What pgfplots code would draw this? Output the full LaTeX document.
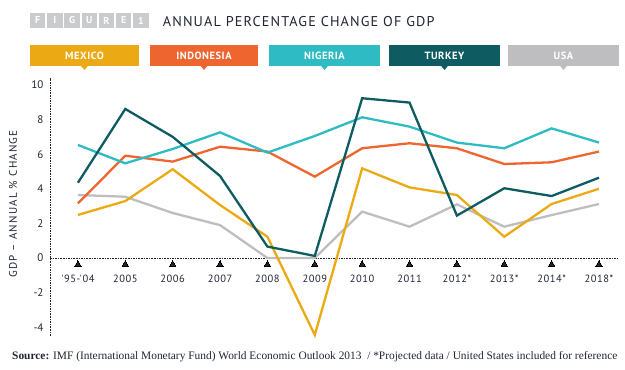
\documentclass[border=0pt]{standalone}
\usepackage{pgfplots}
\pgfplotsset{compat=1.18}
\usepackage{fontspec}
\setmainfont{Liberation Serif}
\newfontfamily\ptsans{PT Sans}
\newfontfamily\ptsansls[LetterSpace=8]{PT Sans}
\newfontfamily\ptsanslab[LetterSpace=11]{PT Sans}
\newfontfamily\ptsanslb[LetterSpace=5]{PT Sans}
\definecolor{mex}{HTML}{EBA914}
\definecolor{ind}{HTML}{EE6530}
\definecolor{nig}{HTML}{2EBBC3}
\definecolor{tur}{HTML}{0E5C61}
\definecolor{usa}{HTML}{BEBEC1}
\definecolor{navy}{HTML}{1F2533}
\definecolor{badge}{HTML}{C9CBCC}

\pgfplotstableread{
x   mex    ind   nig   tur   usa
0   2.49   3.16  6.53  4.35  3.64
1   3.29   5.91  5.47  8.61  3.54
2   5.13   5.57  6.30  7.00  2.60
3   3.06   6.43  7.26  4.74  1.90
4   1.23   6.15  6.09  0.66  0.00
5  -4.45   4.70  7.05  0.12  0.00
6   5.18   6.34  8.13  9.23  2.68
7   4.08   6.63  7.59  8.98  1.81
8   3.64   6.34  6.67  2.45  3.10
9   1.23   5.43  6.34  4.03  1.81
10  3.12   5.53  7.49  3.58  2.48
11  4.00   6.15  6.67  4.64  3.12
}\gdpdata

\begin{document}
\begin{tikzpicture}[x=1pt,y=1pt]
\useasboundingbox (0,0) rectangle (625,370);
\begin{axis}[
  at={(50pt,34.1pt)}, anchor=south west,
  scale only axis, width=567pt, height=257.9pt,
  xmin=-0.59, xmax=11.38, ymin=-4.5, ymax=10.4,
  axis x line=middle, axis y line=left,
  x axis line style={-, dash pattern=on 1.6pt off 1pt, line width=0.7pt, navy},
  y axis line style={-, dash pattern=on 1.6pt off 1pt, line width=0.7pt, navy},
  major tick length=0pt,
  ytick={-4,-2,0,2,4,6,8,10},
  xtick={0,...,11},
  xticklabels={{'95-'04},2005,2006,2007,2008,2009,2010,2011,{2012*},{2013*},{2014*},{2018*}},
  /pgf/number format/assume math mode=true,
  yticklabel style={font=\ptsans\fontsize{11}{12}\selectfont, text=navy, xshift=-3pt},
  xticklabel style={font=\ptsanslb\fontsize{10.5}{12}\selectfont, text=navy, yshift=-13pt},
  clip=false,
  every axis plot/.append style={line width=2.3pt, line join=miter},
]
\addplot[usa, mark=none] table[x=x,y=usa]{\gdpdata};
\addplot[mex, mark=none] table[x=x,y=mex]{\gdpdata};
\addplot[ind, mark=none] table[x=x,y=ind]{\gdpdata};
\addplot[nig, mark=none] table[x=x,y=nig]{\gdpdata};
\addplot[tur, mark=none] table[x=x,y=tur]{\gdpdata};
\addplot[only marks, mark=triangle*, mark size=3.6pt, mark options={fill=navy, draw=none}, line width=0pt]
  coordinates {(0,-0.36)(1,-0.36)(2,-0.36)(3,-0.36)(4,-0.36)(5,-0.36)(6,-0.36)(7,-0.36)(8,-0.36)(9,-0.36)(10,-0.36)(11,-0.36)};
\end{axis}
% y label
\node[rotate=90, text=navy, font=\ptsanslab\fontsize{11}{12}\selectfont] at (13,166) {GDP – ANNUAL \% CHANGE};
% FIGURE badge
\foreach \l [count=\i from 0] in {F,I,G,U,R,E,1} {
  \fill[badge] (30+\i*17.2,341.7) rectangle ++(15.4,15.6);
  \node[text=white, font=\ptsans\bfseries\fontsize{10}{12}\selectfont] at (30+\i*17.2+7.7,349.5) {\l};
}
% title
\node[anchor=base west, text=navy, font=\ptsansls\fontsize{14.2}{16}\selectfont, inner sep=0pt] at (162.7,343.3) {ANNUAL PERCENTAGE CHANGE OF GDP};
% legend boxes
\foreach \xa/\xb/\c/\n in {30/139/mex/MEXICO, 150/258/ind/INDONESIA, 269/380/nig/NIGERIA, 389/500/tur/TURKEY, 508/619/usa/USA} {
  \fill[\c] (\xa,304) rectangle (\xb,324.5);
  \fill[\c] ({(\xa+\xb)/2-3.5},304.2) -- ({(\xa+\xb)/2+3.5},304.2) -- ({(\xa+\xb)/2},300) -- cycle;
  \node[text=white, font=\ptsanslb\bfseries\fontsize{10.5}{12}\selectfont] at ({(\xa+\xb)/2},314.3) {\n};
}
% source
\node[anchor=base west, inner sep=0pt, text=navy, font=\fontsize{11.4}{13}\selectfont] at (12,10.7) {\textbf{Source:} IMF (International Monetary Fund) World Economic Outlook 2013 \ / *Projected data / United States included for reference};
\end{tikzpicture}
\end{document}
